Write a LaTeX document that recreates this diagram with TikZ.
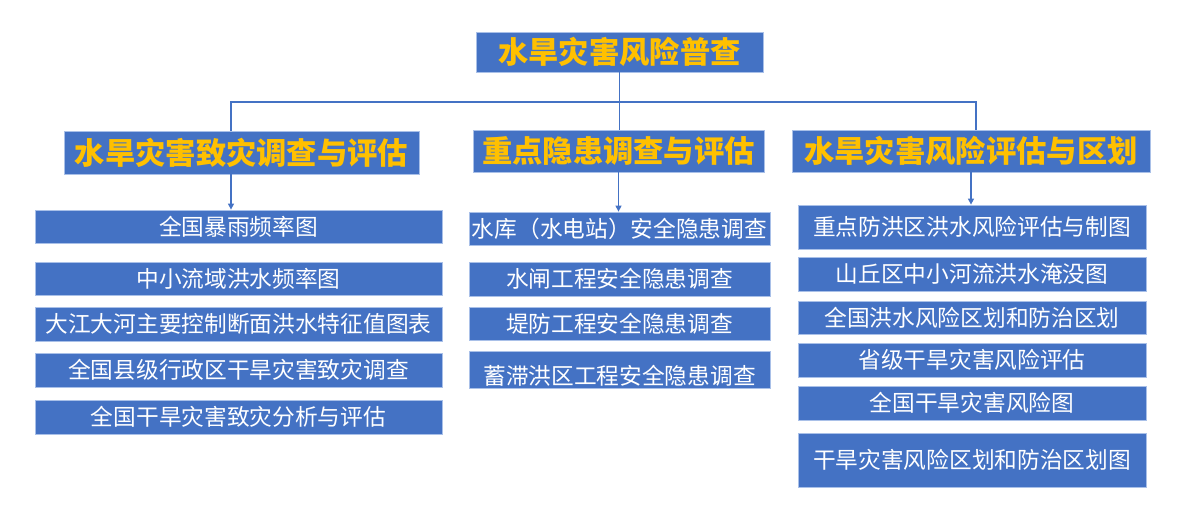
\documentclass[tikz,border=0pt]{standalone}
\usepackage{fontspec}
\setmainfont{Noto Sans CJK SC}
\usetikzlibrary{arrows.meta}
\definecolor{boxblue}{HTML}{4472C4}
\definecolor{boxedge}{HTML}{A9C0E8}
\definecolor{titlegold}{HTML}{FFC000}
\tikzset{
  boxbase/.style = {fill=boxblue, draw=boxedge, line width=0.8pt, inner sep=0pt, align=center},
  titlebox/.style = {boxbase, text=titlegold, font=\fontsize{30.3}{32}\selectfont\bfseries},
  itembox/.style = {boxbase, text=white, font=\fontsize{22.7}{24}\selectfont},
  conn/.style = {boxblue, line width=1.3pt}
}
\begin{document}
\begin{tikzpicture}[x=1pt, y=-1pt, >={Triangle[length=6pt,width=6pt]}]
			\useasboundingbox (0,0) rectangle (1180,520);
			
			\node[titlebox, minimum width=287pt, minimum height=40pt] (root) at (619.5,52) {水旱灾害风险普查};
			
			\node[titlebox, minimum width=355pt, minimum height=43pt] (cat1) at (241.5,152.5) {水旱灾害致灾调查与评估};
			\node[titlebox, minimum width=291pt, minimum height=42pt] (cat2) at (618.5,151) {重点隐患调查与评估};
			\node[titlebox, minimum width=358pt, minimum height=42pt] (cat3) at (971,151) {水旱灾害风险评估与区划};
			
			\node[itembox, minimum width=407pt, minimum height=33pt] (l1) at (238.5,226.5) {全国暴雨频率图};
			\node[itembox, minimum width=407pt, minimum height=33pt] (l2) at (238.5,278.5) {中小流域洪水频率图};
			\node[itembox, minimum width=407pt, minimum height=34pt] (l3) at (238.5,324) {大江大河主要控制断面洪水特征值图表};
			\node[itembox, minimum width=407pt, minimum height=34pt] (l4) at (238.5,370) {全国县级行政区干旱灾害致灾调查};
			\node[itembox, minimum width=407pt, minimum height=34pt] (l5) at (238.5,417) {全国干旱灾害致灾分析与评估};
			
			\node[itembox, minimum width=301pt, minimum height=33pt] (m1) at (619.5,228.5) {水库（水电站）安全隐患调查};
			\node[itembox, minimum width=301pt, minimum height=34pt] (m2) at (619.5,279) {水闸工程安全隐患调查};
			\node[itembox, minimum width=301pt, minimum height=33pt] (m3) at (619.5,323.5) {堤防工程安全隐患调查};
			\node[itembox, minimum width=301pt, minimum height=37pt, text height=30pt, text depth=0pt] (m4) at (619.5,369.5) {蓄滞洪区工程安全隐患调查};
			
			\node[itembox, minimum width=348pt, minimum height=44pt] (r1) at (972,227) {重点防洪区洪水风险评估与制图};
			\node[itembox, minimum width=348pt, minimum height=34pt] (r2) at (972,274) {山丘区中小河流洪水淹没图};
			\node[itembox, minimum width=348pt, minimum height=33pt] (r3) at (972,317.5) {全国洪水风险区划和防治区划};
			\node[itembox, minimum width=348pt, minimum height=34pt] (r4) at (972,360) {省级干旱灾害风险评估};
			\node[itembox, minimum width=348pt, minimum height=34pt] (r5) at (972,403) {全国干旱灾害风险图};
			\node[itembox, minimum width=348pt, minimum height=54pt] (r6) at (972,460) {干旱灾害风险区划和防治区划图};
			
			\coordinate (hl) at (231,102);
			\coordinate (hr) at (976,102);
			\draw[conn] (root.south) -- (root.south |- cat2.north);
			\draw[conn] (cat1.north -| hl) -- (hl) -- (hr) -- (cat3.north -| hr);
			
			\draw[conn, ->] (cat1.south -| hl) -- (l1.north -| hl);
			\draw[conn, ->] (cat2.south) -- (cat2.south |- m1.north);
			\draw[conn, ->] (cat3.south) -- (cat3.south |- r1.north);
		
		\end{tikzpicture}
\end{document}
